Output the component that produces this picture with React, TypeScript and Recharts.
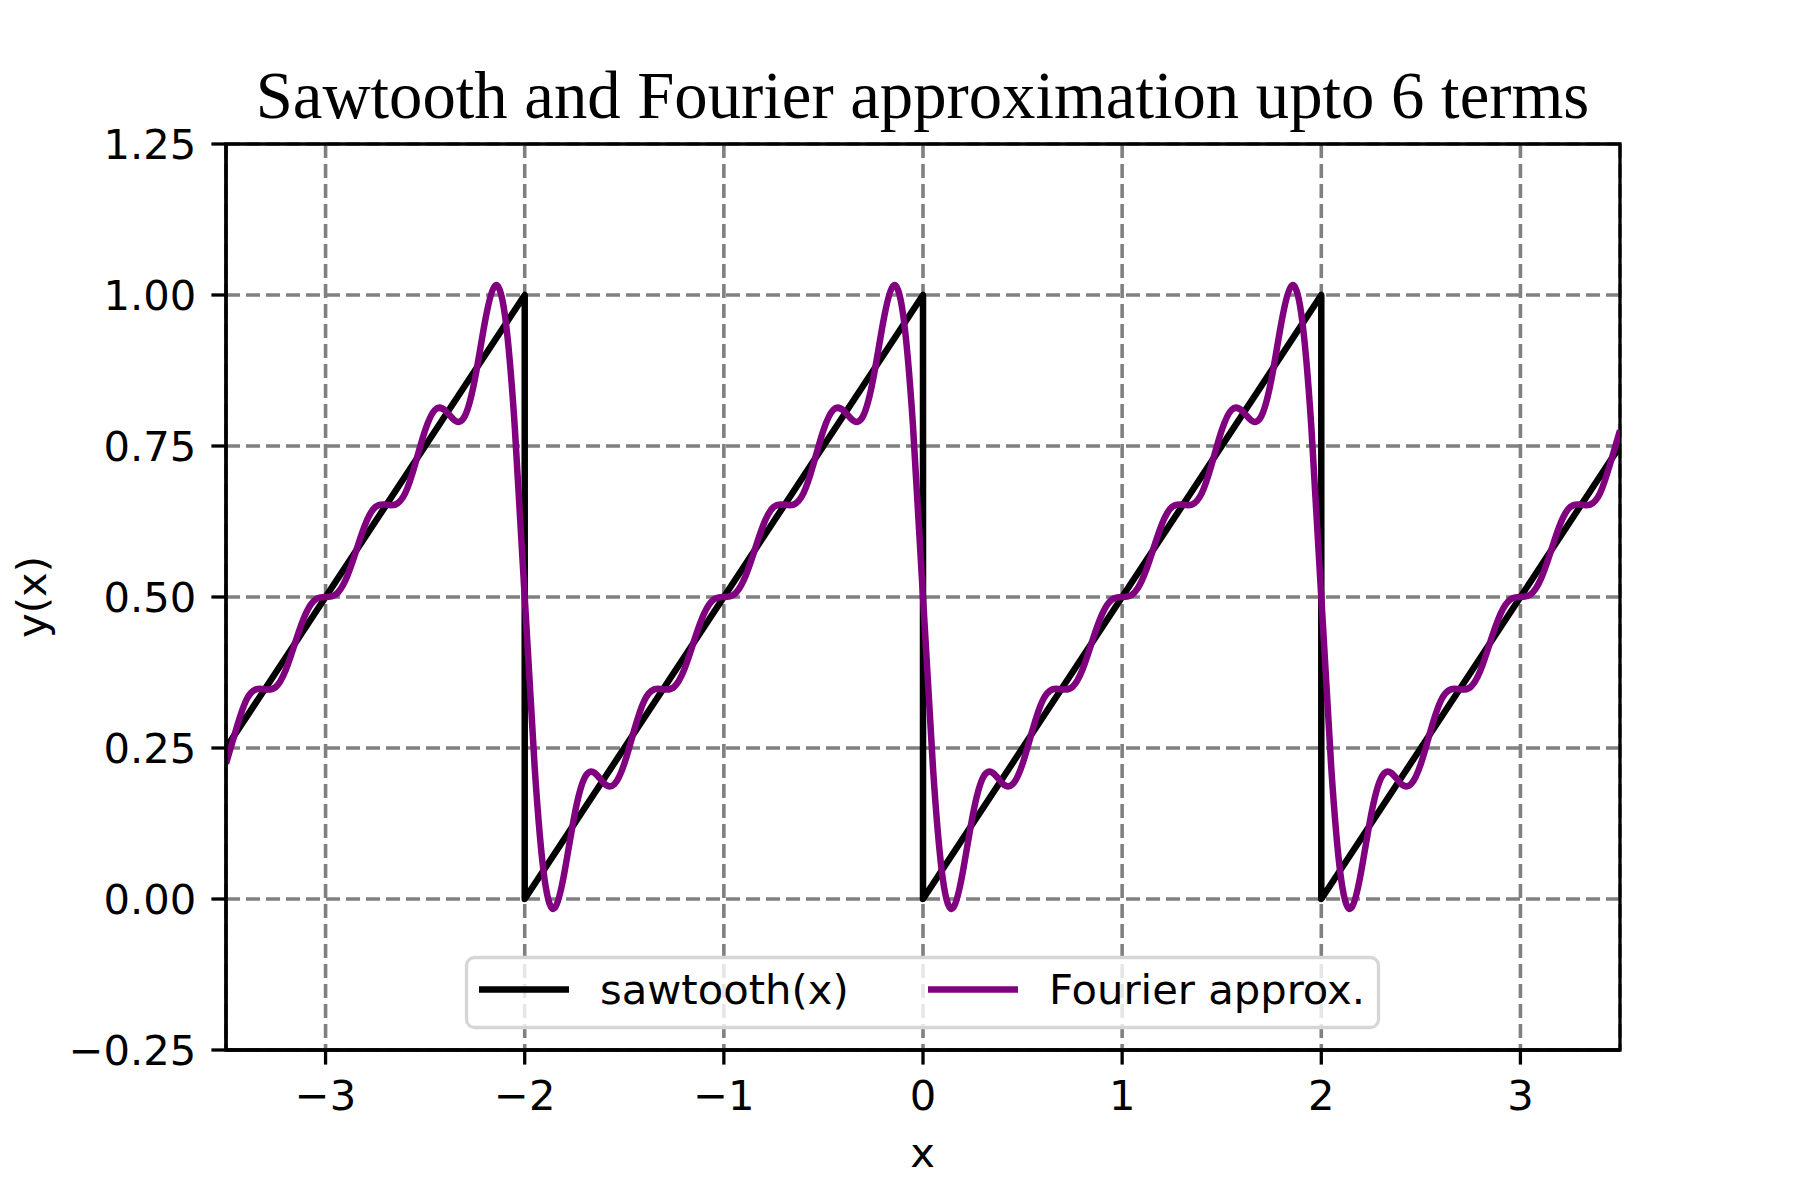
import React from "react";
import {
  LineChart,
  Line,
  XAxis,
  YAxis,
  CartesianGrid,
  Legend,
  ReferenceArea,
} from "recharts";

const TITLE = "Sawtooth and Fourier approximation upto 6 terms";
const X_LABEL = "x";
const Y_LABEL = "y(x)";

const X_TICKS = [-3, -2, -1, 0, 1, 2, 3];
const Y_TICKS = [-0.25, 0, 0.25, 0.5, 0.75, 1, 1.25];
const X_DOMAIN: [number, number] = [-3.5, 3.5];
const Y_DOMAIN: [number, number] = [-0.25, 1.25];

const SERIES_NAMES = ["sawtooth(x)", "Fourier approx."];

// sawtooth(x): corners of the ramp, jump drawn as a vertical segment
const SAW_X = [-3.5, -2, -2, 0, 0, 2, 2, 3.5];
const SAW_Y = [0.25, 1, 0, 1, 0, 1, 0, 0.75];

// Fourier approx., sampled every 0.05 from x = -3.5
const FOURIER_X_START = -3.5;
const FOURIER_X_STEP = 0.05;
const FOURIER_Y = [
  // -3.50 .. -2.05
  0.224, 0.280, 0.328, 0.347, 0.347, 0.351, 0.379, 0.427, 0.472, 0.496,
  0.500, 0.504, 0.528, 0.573, 0.621, 0.649, 0.653, 0.653, 0.672, 0.720,
  0.776, 0.810, 0.809, 0.792, 0.800, 0.861, 0.955, 1.015, 0.968, 0.782,
  // -2.00 .. -0.05
  0.500, 0.218, 0.032, -0.015, 0.045, 0.139, 0.200, 0.209, 0.191, 0.190,
  0.224, 0.280, 0.328, 0.347, 0.347, 0.351, 0.379, 0.427, 0.472, 0.496,
  0.500, 0.504, 0.528, 0.573, 0.621, 0.649, 0.653, 0.653, 0.672, 0.720,
  0.776, 0.810, 0.809, 0.792, 0.800, 0.861, 0.955, 1.015, 0.968, 0.782,
  // 0.00 .. 1.95
  0.500, 0.218, 0.032, -0.015, 0.045, 0.139, 0.200, 0.209, 0.191, 0.190,
  0.224, 0.280, 0.328, 0.347, 0.347, 0.351, 0.379, 0.427, 0.472, 0.496,
  0.500, 0.504, 0.528, 0.573, 0.621, 0.649, 0.653, 0.653, 0.672, 0.720,
  0.776, 0.810, 0.809, 0.792, 0.800, 0.861, 0.955, 1.015, 0.968, 0.782,
  // 2.00 .. 3.50
  0.500, 0.218, 0.032, -0.015, 0.045, 0.139, 0.200, 0.209, 0.191, 0.190,
  0.224, 0.280, 0.328, 0.347, 0.347, 0.351, 0.379, 0.427, 0.472, 0.496,
  0.500, 0.504, 0.528, 0.573, 0.621, 0.649, 0.653, 0.653, 0.672, 0.720,
  0.776,
];

const SAW_COLOR = "#000000";
const FOURIER_COLOR = "#800080";
const GRID_COLOR = "#808080";
const TICK_FONT = "'DejaVu Sans', sans-serif";
const FS = 41.7;

const sawData = SAW_X.map((x, i) => ({ x, y: SAW_Y[i] }));
const fourierData = FOURIER_Y.map((y, i) => ({
  x: +(FOURIER_X_START + i * FOURIER_X_STEP).toFixed(2),
  y,
}));

const fmtMinus = (s: string) => s.replace("-", "\u2212");

// legend drawn in plot order (sawtooth first), like matplotlib
function LegendBox(props: any) {
  const payload = props.payload || [];
  const items = SERIES_NAMES.map((name) => {
    const p = payload.find((q: any) => q.value === name);
    return { label: name, color: p ? p.color : "#000" };
  });
  return (
    <svg width={915} height={73} style={{ display: "block", overflow: "visible" }}>
      <rect
        x={1.5}
        y={1.5}
        width={912}
        height={70}
        rx={8}
        fill="#ffffff"
        fillOpacity={0.8}
        stroke="#d6d6d6"
        strokeWidth={3.3}
      />
      {items.map((it, i) => {
        const x0 = i === 0 ? 14 : 463;
        return (
          <g key={it.label}>
            <line
              x1={x0}
              x2={x0 + 90}
              y1={33.5}
              y2={33.5}
              stroke={it.color}
              strokeWidth={6.5}
            />
            <text
              x={x0 + 121}
              y={48}
              fontFamily={TICK_FONT}
              fontSize={FS}
              fill="#000"
            >
              {it.label}
            </text>
          </g>
        );
      })}
    </svg>
  );
}

export default function App() {
  return (
    <div
      style={{
        position: "absolute",
        left: 0,
        top: 0,
        width: 1800,
        height: 1200,
        background: "#fff",
      }}
    >
      <LineChart
        width={1800}
        height={1200}
        margin={{ top: 144, right: 180, bottom: 90, left: 126 }}
      >
        <CartesianGrid
          stroke={GRID_COLOR}
          strokeWidth={3.6}
          strokeDasharray="14 6"
        />
        <XAxis
          dataKey="x"
          type="number"
          domain={X_DOMAIN}
          ticks={X_TICKS}
          allowDataOverflow
          height={60}
          tickSize={14.6}
          tickMargin={16}
          axisLine={{ stroke: "#000", strokeWidth: 3.3 }}
          tickLine={{ stroke: "#000", strokeWidth: 3.3 }}
          tick={{ fill: "#000", fontSize: FS, fontFamily: TICK_FONT }}
          tickFormatter={(v: number) => fmtMinus(String(v))}
        />
        <YAxis
          dataKey="y"
          type="number"
          domain={Y_DOMAIN}
          ticks={Y_TICKS}
          allowDataOverflow
          width={100}
          tickSize={14.6}
          tickMargin={15}
          axisLine={{ stroke: "#000", strokeWidth: 3.3 }}
          tickLine={{ stroke: "#000", strokeWidth: 3.3 }}
          tick={{ fill: "#000", fontSize: FS, fontFamily: TICK_FONT }}
          tickFormatter={(v: number) => fmtMinus(v.toFixed(2))}
        />
        <Line
          data={sawData}
          dataKey="y"
          name={SERIES_NAMES[0]}
          type="linear"
          stroke={SAW_COLOR}
          strokeWidth={6.5}
          strokeLinejoin="round"
          dot={false}
          activeDot={false}
          isAnimationActive={false}
        />
        <Line
          data={fourierData}
          dataKey="y"
          name={SERIES_NAMES[1]}
          type="natural"
          stroke={FOURIER_COLOR}
          strokeWidth={6.5}
          strokeLinejoin="round"
          dot={false}
          activeDot={false}
          isAnimationActive={false}
        />
        <ReferenceArea
          x1={X_DOMAIN[0]}
          x2={X_DOMAIN[1]}
          y1={Y_DOMAIN[0]}
          y2={Y_DOMAIN[1]}
          fill="none"
          stroke="#000"
          strokeWidth={3.3}
          ifOverflow="visible"
        />
        <Legend
          layout="vertical"
          align="center"
          verticalAlign="middle"
          content={(p: any) => <LegendBox {...p} />}
          wrapperStyle={{
            left: 465,
            top: 956,
            width: 915,
            height: 73,
            right: "auto",
            bottom: "auto",
          }}
        />
      </LineChart>

      {/* title and axis labels */}
      <svg
        width={1800}
        height={1200}
        style={{ position: "absolute", left: 0, top: 0, pointerEvents: "none" }}
      >
        <text
          x={922.5}
          y={118}
          textAnchor="middle"
          fontFamily="'Liberation Serif', 'Times New Roman', serif"
          fontSize={66.7}
          fill="#000"
        >
          {TITLE}
        </text>
        <text
          x={922.5}
          y={1167}
          textAnchor="middle"
          fontFamily={TICK_FONT}
          fontSize={FS}
          fill="#000"
        >
          {X_LABEL}
        </text>
        <text
          x={46}
          y={597}
          transform="rotate(-90 46 597)"
          textAnchor="middle"
          fontFamily={TICK_FONT}
          fontSize={FS}
          fill="#000"
        >
          {Y_LABEL}
        </text>
      </svg>
    </div>
  );
}
